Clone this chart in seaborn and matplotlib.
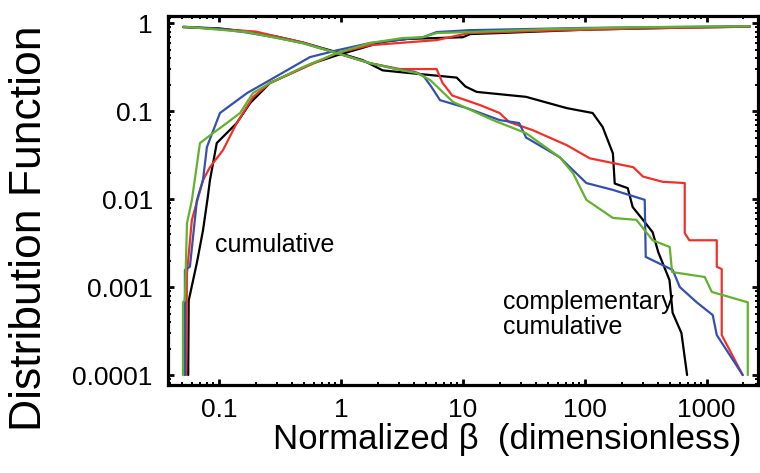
import pandas as pd
import matplotlib
matplotlib.use("Agg")
import matplotlib.pyplot as plt
from matplotlib.ticker import FixedLocator, FixedFormatter, LogLocator, NullFormatter
import seaborn as sns

# series colours
colors = {"black": "#000000", "red": "#f0302a", "blue": "#3550ad", "green": "#62b12f"}

# cumulative distributions (rising curves)
black_cum_x = [0.056, 0.0565, 0.066, 0.074, 0.081, 0.0844, 0.096, 0.14, 0.18, 0.262, 0.59, 0.93, 2.2, 3.5, 10.0, 11.5, 20, 100, 700, 2250]
black_cum_y = [1e-4, 7e-4, 1.9e-3, 4.4e-3, 0.0105, 0.0164, 0.0433, 0.073, 0.123, 0.208, 0.35, 0.43, 0.61, 0.66, 0.69, 0.75, 0.77, 0.84, 0.89, 0.91]
red_cum_x = [0.0537, 0.0547, 0.060, 0.074, 0.0844, 0.108, 0.14, 0.19, 0.262, 0.489, 0.93, 1.73, 6.1, 9.4, 11.4, 50, 300, 2250]
red_cum_y = [1e-4, 1.44e-3, 5.8e-3, 0.0164, 0.023, 0.036, 0.073, 0.144, 0.208, 0.308, 0.456, 0.56, 0.64, 0.73, 0.77, 0.82, 0.87, 0.91]
blue_cum_x = [0.0526, 0.0526, 0.0578, 0.066, 0.074, 0.0797, 0.102, 0.17, 0.262, 0.557, 0.93, 1.73, 4.7, 6.1, 11.4, 100, 2250]
blue_cum_y = [1e-4, 1.56e-3, 1.7e-3, 9.7e-3, 0.0164, 0.039, 0.095, 0.16, 0.225, 0.41, 0.49, 0.593, 0.69, 0.79, 0.83, 0.88, 0.92]
green_cum_x = [0.0507, 0.0507, 0.0526, 0.0547, 0.060, 0.0699, 0.0893, 0.116, 0.149, 0.19, 0.262, 0.489, 0.93, 1.73, 3.22, 4.7, 6.1, 11.4, 52, 340, 2250]
green_cum_y = [1e-4, 6.7e-4, 7.1e-4, 5.3e-3, 9.7e-3, 0.0433, 0.056, 0.073, 0.095, 0.16, 0.208, 0.316, 0.456, 0.593, 0.676, 0.69, 0.77, 0.79, 0.855, 0.90, 0.92]

# complementary cumulative distributions (falling curves)
black_ccdf_x = [0.051, 0.1, 0.17, 0.3, 0.49, 0.86, 1.5, 2.2, 3.05, 8.9, 10.5, 13, 33, 71, 116, 140, 170, 176, 225, 247, 300, 360, 400, 495, 525, 620, 690]
black_ccdf_y = [0.90, 0.87, 0.80, 0.70, 0.60, 0.48, 0.38, 0.29, 0.277, 0.24, 0.19, 0.165, 0.145, 0.108, 0.095, 0.066, 0.033, 0.015, 0.0133, 0.0081, 0.0058, 0.0042, 0.0025, 0.0012, 5.1e-4, 3.0e-4, 1e-4]
red_ccdf_x = [0.051, 0.2, 0.49, 0.86, 1.73, 3.05, 6.1, 6.8, 8.2, 13.8, 20, 24, 37, 71, 110, 250, 300, 435, 660, 660, 720, 1208, 1208, 1327, 1327, 1970]
red_ccdf_y = [0.91, 0.80, 0.60, 0.47, 0.35, 0.30, 0.30, 0.21, 0.15, 0.117, 0.095, 0.075, 0.061, 0.041, 0.029, 0.023, 0.018, 0.0157, 0.0152, 0.0041, 0.0034, 0.0034, 0.0017, 0.0016, 2.85e-4, 1e-4]
blue_ccdf_x = [0.051, 0.1, 0.17, 0.3, 0.49, 0.86, 1.73, 3.2, 4.0, 4.7, 5.5, 6.5, 10.8, 20, 29, 33, 62, 103, 170, 310, 316, 526, 601, 828, 1120, 1208, 1973]
blue_ccdf_y = [0.90, 0.86, 0.78, 0.68, 0.59, 0.47, 0.35, 0.29, 0.28, 0.256, 0.19, 0.133, 0.108, 0.079, 0.073, 0.05, 0.030, 0.0152, 0.0127, 0.0098, 2.2e-3, 1.56e-3, 1e-3, 6.7e-4, 4.8e-4, 2.85e-4, 1e-4]
green_ccdf_x = [0.051, 0.17, 0.49, 0.86, 1.73, 3.2, 4.2, 5.4, 8.3, 17.6, 33, 62, 80, 103, 170, 265, 360, 497, 520, 963, 1100, 2170, 2170]
green_ccdf_y = [0.91, 0.79, 0.59, 0.47, 0.35, 0.29, 0.27, 0.225, 0.127, 0.079, 0.056, 0.030, 0.0197, 0.0098, 0.0061, 0.0058, 3.4e-3, 2.85e-3, 1.48e-3, 1.3e-3, 8.8e-4, 6.7e-4, 1e-4]

xtick_vals = [0.1, 1, 10, 100, 1000]
xtick_labels = ["0.1", "1", "10", "100", "1000"]
ytick_vals = [1e-4, 1e-3, 1e-2, 0.1, 1]
ytick_labels = ["0.0001", "0.001", "0.01", "0.1", "1"]

curves = [
    ("black", "cum", black_cum_x, black_cum_y),
    ("red", "cum", red_cum_x, red_cum_y),
    ("blue", "cum", blue_cum_x, blue_cum_y),
    ("green", "cum", green_cum_x, green_cum_y),
    ("black", "ccdf", black_ccdf_x, black_ccdf_y),
    ("red", "ccdf", red_ccdf_x, red_ccdf_y),
    ("blue", "ccdf", blue_ccdf_x, blue_ccdf_y),
    ("green", "ccdf", green_ccdf_x, green_ccdf_y),
]
frames = []
for name, kind, xs, ys in curves:
    frames.append(pd.DataFrame({"x": xs, "y": ys, "series": name, "curve": name + "_" + kind}))
df = pd.concat(frames, ignore_index=True)

sns.set_style("ticks")
plt.rcParams["font.family"] = ["Liberation Sans", "DejaVu Sans"]
plt.rcParams["text.color"] = "black"
plt.rcParams["axes.labelcolor"] = "black"
plt.rcParams["xtick.color"] = "black"
plt.rcParams["ytick.color"] = "black"

fig = plt.figure(figsize=(7.6, 4.73), dpi=100)
ax = fig.add_axes([0.221, 0.186, 0.776, 0.780])

sns.lineplot(data=df, x="x", y="y", hue="series", units="curve", estimator=None, sort=False,
             palette=colors, linewidth=1.6, legend=False, ax=ax)

ax.set_xscale("log")
ax.set_yscale("log")
ax.set_xlim(0.0382, 2618)
ax.set_ylim(7.7e-5, 1.2)

ax.xaxis.set_major_locator(FixedLocator(xtick_vals))
ax.xaxis.set_major_formatter(FixedFormatter(xtick_labels))
ax.yaxis.set_major_locator(FixedLocator(ytick_vals))
ax.yaxis.set_major_formatter(FixedFormatter(ytick_labels))
for axis in (ax.xaxis, ax.yaxis):
    axis.set_minor_locator(LogLocator(base=10, subs=range(2, 10), numticks=20))
    axis.set_minor_formatter(NullFormatter())

ax.tick_params(which="both", direction="in", top=True, right=True, colors="black", labelcolor="black")
ax.tick_params(which="major", length=4.5, width=2.0, labelsize=19)
ax.tick_params(which="minor", length=2.5, width=1.4)
ax.tick_params(axis="y", which="major", pad=11)
ax.tick_params(axis="x", which="major", pad=9)
for sp in ax.spines.values():
    sp.set_linewidth(2.3)
    sp.set_color("black")

ax.set_xlabel("Normalized \u03b2  (dimensionless)", fontsize=25, va="center", color="black")
ax.xaxis.set_label_coords(0.575, -0.149)
ax.set_ylabel("Distribution Function", fontsize=32, va="center", color="black")
ax.yaxis.set_label_coords(-0.235, 0.425)

ax.text(0.093, 0.003, "cumulative", fontsize=18, ha="left", va="center", color="black")
ax.text(21.3, 4.9e-4, "complementary\ncumulative", fontsize=18, ha="left", va="center",
        linespacing=1.05, color="black")

fig.savefig("out.png", dpi=100)
